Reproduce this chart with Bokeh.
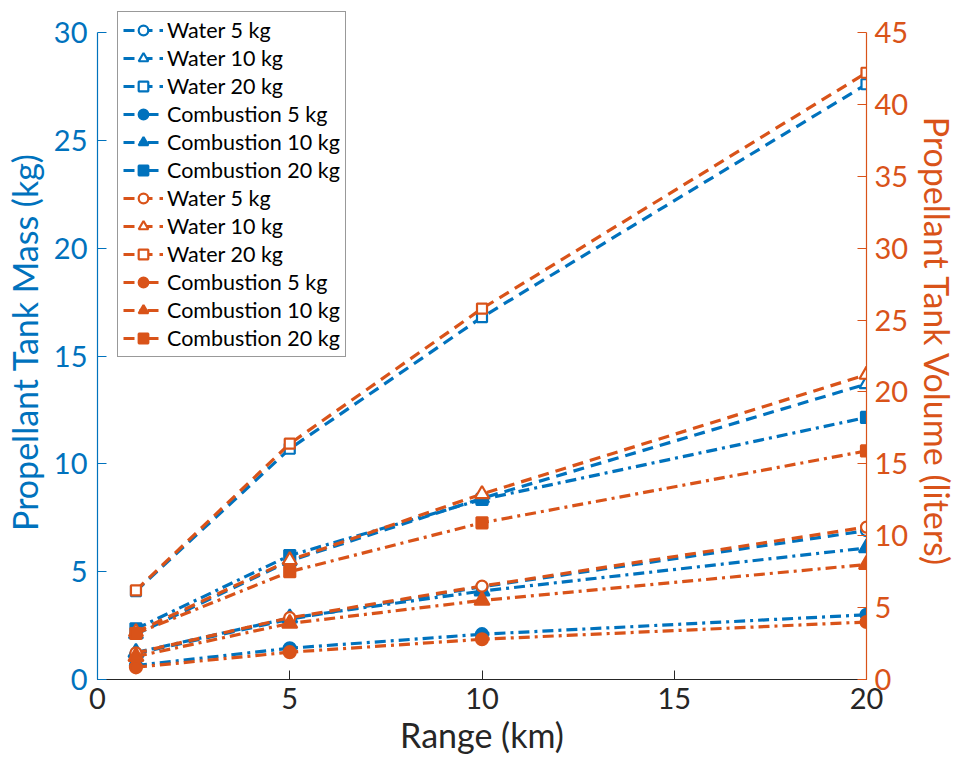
from bokeh.plotting import figure
from bokeh.models import Range1d, LinearAxis, Legend, LegendItem, FixedTicker
from bokeh.embed import file_html
from bokeh.resources import INLINE

ranges_km = [1, 5, 10, 20]

# Tank mass (kg) - left axis
mass_water_5 = [1.2, 2.8, 4.3, 6.9]
mass_water_10 = [2.1, 5.5, 8.4, 13.7]
mass_water_20 = [4.1, 10.7, 16.8, 27.6]
mass_comb_5 = [0.65, 1.45, 2.1, 3.0]
mass_comb_10 = [1.25, 2.85, 4.1, 6.1]
mass_comb_20 = [2.35, 5.75, 8.35, 12.15]

# Tank volume (liters) - right axis
vol_water_5 = [1.85, 4.3, 6.5, 10.6]
vol_water_10 = [3.3, 8.3, 12.9, 21.2]
vol_water_20 = [6.2, 16.4, 25.8, 42.2]
vol_comb_5 = [0.85, 1.9, 2.8, 4.0]
vol_comb_10 = [1.6, 3.9, 5.5, 8.0]
vol_comb_20 = [3.2, 7.5, 10.9, 15.9]

labels = ["Water 5 kg", "Water 10 kg", "Water 20 kg",
          "Combustion 5 kg", "Combustion 10 kg", "Combustion 20 kg"]

x_ticks = [0, 5, 10, 15, 20]
left_ticks = [0, 5, 10, 15, 20, 25, 30]
right_ticks = [0, 5, 10, 15, 20, 25, 30, 35, 40, 45]
left_max = 30
right_max = 45

BLUE = "#0072BD"
ORANGE = "#D95319"
DARK = "#262626"
FONT = "Lato"

W, H = 961, 769
TOP, BOTTOM, LEFT, RIGHT = 4, 90, 97, 93
axis_top_px = 32  # pixel row where the top tick (30 / 45) sits
frame_h = H - TOP - BOTTOM
axis_h = H - BOTTOM - axis_top_px
y_end = left_max * frame_h / axis_h
y2_end = right_max * frame_h / axis_h

p = figure(width=W, height=H, output_backend="svg", toolbar_location=None,
           x_range=Range1d(0, 20), y_range=Range1d(0, y_end),
           min_border_left=LEFT, min_border_right=RIGHT, min_border_top=TOP,
           min_border_bottom=BOTTOM)
p.extra_y_ranges = {"right": Range1d(0, y2_end)}
p.xgrid.visible = False
p.ygrid.visible = False
p.outline_line_color = None
p.background_fill_color = "white"
p.border_fill_color = "white"


def style_axis(ax, color, ticks):
    ax.ticker = FixedTicker(ticks=ticks)
    ax.axis_line_color = color
    ax.axis_line_width = 1.2
    ax.major_tick_line_color = color
    ax.major_tick_in = 9
    ax.major_tick_out = 0
    ax.minor_tick_line_color = None
    ax.major_label_text_color = color
    ax.major_label_text_font = FONT
    ax.major_label_text_font_size = "29px"
    ax.axis_label_text_color = color
    ax.axis_label_text_font = FONT
    ax.axis_label_text_font_size = "34px"
    ax.axis_label_text_font_style = "normal"


xa = p.xaxis[0]
style_axis(xa, DARK, x_ticks)
xa.axis_label = "Range (km)"
xa.major_label_standoff = 8
xa.axis_label_standoff = 2

ya = p.yaxis[0]
style_axis(ya, BLUE, left_ticks)
ya.bounds = (0, left_max)
ya.axis_label = "Propellant Tank Mass (kg)"
ya.major_label_standoff = 10
ya.axis_label_standoff = 6

yr = LinearAxis(y_range_name="right")
style_axis(yr, ORANGE, right_ticks)
yr.bounds = (0, right_max)
yr.axis_label = "Propellant Tank Volume (liters)"
yr.major_label_standoff = 8
yr.axis_label_standoff = 6
p.add_layout(yr, "right")

markers = ["circle", "triangle", "square", "circle", "triangle", "square"]
sizes = [11, 14, 10, 12, 15, 11]
filled = [False, False, False, True, True, True]
dashes = ["11 7", "11 7", "11 7", "11 5 3 5", "11 5 3 5", "11 5 3 5"]

blue_series = [mass_water_5, mass_water_10, mass_water_20, mass_comb_5, mass_comb_10, mass_comb_20]
orange_series = [vol_water_5, vol_water_10, vol_water_20, vol_comb_5, vol_comb_10, vol_comb_20]

items = []
for color, series, rname in [(BLUE, blue_series, "default"), (ORANGE, orange_series, "right")]:
    for i, ys in enumerate(series):
        ln = p.line(ranges_km, ys, line_color=color, line_width=3.2,
                    line_dash=dashes[i], y_range_name=rname)
        sc = p.scatter(ranges_km, ys, marker=markers[i], size=sizes[i],
                       line_color=color, line_width=2.2,
                       fill_color=color if filled[i] else "white",
                       y_range_name=rname)
        items.append(LegendItem(label=labels[i], renderers=[ln, sc]))

legend = Legend(items=items, location=(20, 322))
legend.label_text_font = FONT
legend.label_text_font_size = "21.5px"
legend.label_text_color = "black"
legend.glyph_width = 40
legend.glyph_height = 24
legend.label_height = 24
legend.spacing = 2
legend.padding = 5
legend.margin = 0
legend.label_standoff = 4
legend.border_line_color = "#333333"
legend.border_line_width = 1
legend.background_fill_alpha = 1.0
p.add_layout(legend, "center")

open("out.html", "w").write(file_html(p, INLINE))
